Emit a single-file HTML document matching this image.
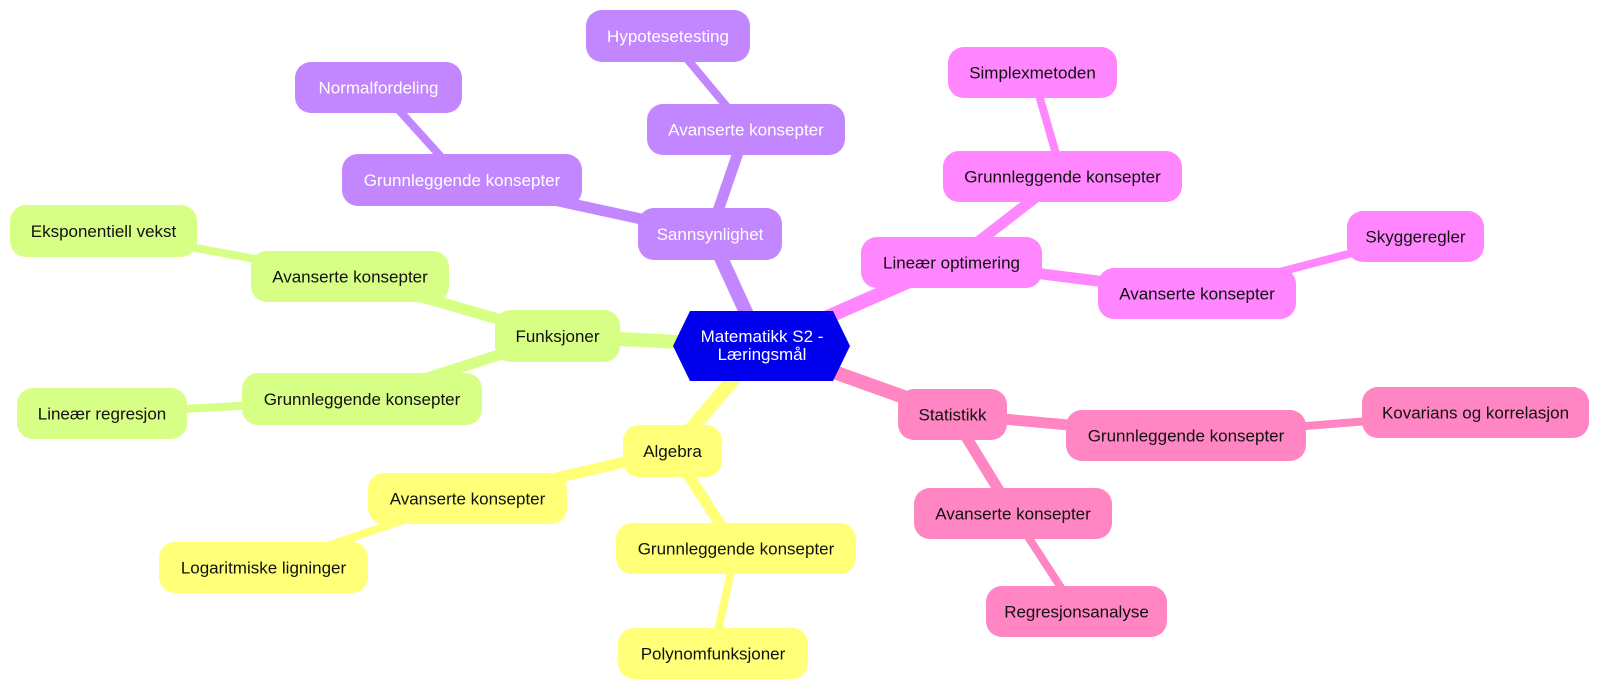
<!DOCTYPE html>
<html>
<head>
<meta charset="utf-8">
<style>
  html, body { margin: 0; padding: 0; background: #ffffff; }
  body { width: 1600px; height: 690px; overflow: hidden; }
  svg { display: block; }
  text { font-family: "Liberation Sans", Arial, sans-serif; font-size: 17px; text-anchor: middle; }
  .dk { fill: #111111; }
  .wt { fill: #ffffff; }
</style>
</head>
<body>
<svg width="1600" height="690" viewBox="0 0 1600 690" xmlns="http://www.w3.org/2000/svg">
  <!-- EDGES -->
  <g fill="none" stroke-linecap="butt">
    <!-- purple -->
    <line x1="761.5" y1="346" x2="710" y2="234" stroke="#C286FF" stroke-width="14"/>
    <line x1="710" y1="234" x2="462" y2="180" stroke="#C286FF" stroke-width="11"/>
    <line x1="710" y1="234" x2="746" y2="129.5" stroke="#C286FF" stroke-width="11"/>
    <line x1="462" y1="180" x2="378.5" y2="87.5" stroke="#C286FF" stroke-width="8"/>
    <line x1="746" y1="129.5" x2="668" y2="36" stroke="#C286FF" stroke-width="8"/>
    <!-- magenta -->
    <line x1="761.5" y1="346" x2="951.5" y2="262.5" stroke="#FF86FF" stroke-width="14"/>
    <line x1="951.5" y1="262.5" x2="1062.5" y2="176.5" stroke="#FF86FF" stroke-width="11"/>
    <line x1="951.5" y1="262.5" x2="1197" y2="293.5" stroke="#FF86FF" stroke-width="11"/>
    <line x1="1062.5" y1="176.5" x2="1032.5" y2="72.5" stroke="#FF86FF" stroke-width="8"/>
    <line x1="1197" y1="293.5" x2="1415.5" y2="236.5" stroke="#FF86FF" stroke-width="8"/>
    <!-- pink -->
    <line x1="761.5" y1="346" x2="952.5" y2="414.5" stroke="#FF86C2" stroke-width="14"/>
    <line x1="952.5" y1="414.5" x2="1186" y2="435.5" stroke="#FF86C2" stroke-width="11"/>
    <line x1="952.5" y1="414.5" x2="1013" y2="513.5" stroke="#FF86C2" stroke-width="11"/>
    <line x1="1186" y1="435.5" x2="1475.5" y2="412.5" stroke="#FF86C2" stroke-width="8"/>
    <line x1="1013" y1="513.5" x2="1076.5" y2="611.5" stroke="#FF86C2" stroke-width="8"/>
    <!-- yellow -->
    <line x1="761.5" y1="346" x2="672.5" y2="451" stroke="#FFFF78" stroke-width="14"/>
    <line x1="672.5" y1="451" x2="467.5" y2="498.5" stroke="#FFFF78" stroke-width="11"/>
    <line x1="672.5" y1="451" x2="736" y2="548.5" stroke="#FFFF78" stroke-width="11"/>
    <line x1="467.5" y1="498.5" x2="263.5" y2="567.5" stroke="#FFFF78" stroke-width="8"/>
    <line x1="736" y1="548.5" x2="713" y2="653.5" stroke="#FFFF78" stroke-width="8"/>
    <!-- green -->
    <line x1="761.5" y1="346" x2="557.5" y2="336" stroke="#D7FF86" stroke-width="14"/>
    <line x1="557.5" y1="336" x2="350" y2="276.5" stroke="#D7FF86" stroke-width="11"/>
    <line x1="557.5" y1="336" x2="362" y2="399" stroke="#D7FF86" stroke-width="11"/>
    <line x1="350" y1="276.5" x2="103.5" y2="231" stroke="#D7FF86" stroke-width="8"/>
    <line x1="362" y1="399" x2="102" y2="413.5" stroke="#D7FF86" stroke-width="8"/>
  </g>

  <!-- NODES -->
  <!-- purple -->
  <g fill="#C286FF">
    <rect x="638" y="208" width="144" height="52" rx="16"/>
    <rect x="342" y="154" width="240" height="52" rx="16"/>
    <rect x="295" y="62" width="167" height="51" rx="16"/>
    <rect x="647" y="104" width="198" height="51" rx="16"/>
    <rect x="586" y="10" width="164" height="52" rx="16"/>
  </g>
  <text class="wt" x="710" y="240">Sannsynlighet</text>
  <text class="wt" x="462" y="186">Grunnleggende konsepter</text>
  <text class="wt" x="378.5" y="93.5">Normalfordeling</text>
  <text class="wt" x="746" y="135.5">Avanserte konsepter</text>
  <text class="wt" x="668" y="42">Hypotesetesting</text>

  <!-- magenta -->
  <g fill="#FF86FF">
    <rect x="861" y="237" width="181" height="51" rx="16"/>
    <rect x="943" y="151" width="239" height="51" rx="16"/>
    <rect x="948" y="47" width="169" height="51" rx="16"/>
    <rect x="1098" y="268" width="198" height="51" rx="16"/>
    <rect x="1347" y="211" width="137" height="51" rx="16"/>
  </g>
  <text class="dk" x="951.5" y="268.5">Lineær optimering</text>
  <text class="dk" x="1062.5" y="182.5">Grunnleggende konsepter</text>
  <text class="dk" x="1032.5" y="78.5">Simplexmetoden</text>
  <text class="dk" x="1197" y="299.5">Avanserte konsepter</text>
  <text class="dk" x="1415.5" y="242.5">Skyggeregler</text>

  <!-- pink -->
  <g fill="#FF86C2">
    <rect x="898" y="389" width="109" height="51" rx="16"/>
    <rect x="1066" y="410" width="240" height="51" rx="16"/>
    <rect x="1362" y="387" width="227" height="51" rx="16"/>
    <rect x="914" y="488" width="198" height="51" rx="16"/>
    <rect x="986" y="586" width="181" height="51" rx="16"/>
  </g>
  <text class="dk" x="952.5" y="420.5">Statistikk</text>
  <text class="dk" x="1186" y="441.5">Grunnleggende konsepter</text>
  <text class="dk" x="1475.5" y="418.5">Kovarians og korrelasjon</text>
  <text class="dk" x="1013" y="519.5">Avanserte konsepter</text>
  <text class="dk" x="1076.5" y="617.5">Regresjonsanalyse</text>

  <!-- yellow -->
  <g fill="#FFFF78">
    <rect x="623" y="425" width="99" height="52" rx="16"/>
    <rect x="368" y="473" width="199" height="51" rx="16"/>
    <rect x="159" y="542" width="209" height="51" rx="16"/>
    <rect x="616" y="523" width="240" height="51" rx="16"/>
    <rect x="618" y="628" width="190" height="51" rx="16"/>
  </g>
  <text class="dk" x="672.5" y="457">Algebra</text>
  <text class="dk" x="467.5" y="504.5">Avanserte konsepter</text>
  <text class="dk" x="263.5" y="573.5">Logaritmiske ligninger</text>
  <text class="dk" x="736" y="554.5">Grunnleggende konsepter</text>
  <text class="dk" x="713" y="659.5">Polynomfunksjoner</text>

  <!-- green -->
  <g fill="#D7FF86">
    <rect x="495" y="310" width="125" height="52" rx="16"/>
    <rect x="251" y="251" width="198" height="51" rx="16"/>
    <rect x="10" y="205" width="187" height="52" rx="16"/>
    <rect x="242" y="373" width="240" height="52" rx="16"/>
    <rect x="17" y="388" width="170" height="51" rx="16"/>
  </g>
  <text class="dk" x="557.5" y="342">Funksjoner</text>
  <text class="dk" x="350" y="282.5">Avanserte konsepter</text>
  <text class="dk" x="103.5" y="237">Eksponentiell vekst</text>
  <text class="dk" x="362" y="405">Grunnleggende konsepter</text>
  <text class="dk" x="102" y="419.5">Lineær regresjon</text>

  <!-- ROOT -->
  <polygon points="673,346 690,311 833,311 850,346 833,381 690,381" fill="#0000EC"/>
  <text class="wt" x="762" y="342">Matematikk S2 -</text>
  <text class="wt" x="762" y="360">Læringsmål</text>
</svg>
</body>
</html>
